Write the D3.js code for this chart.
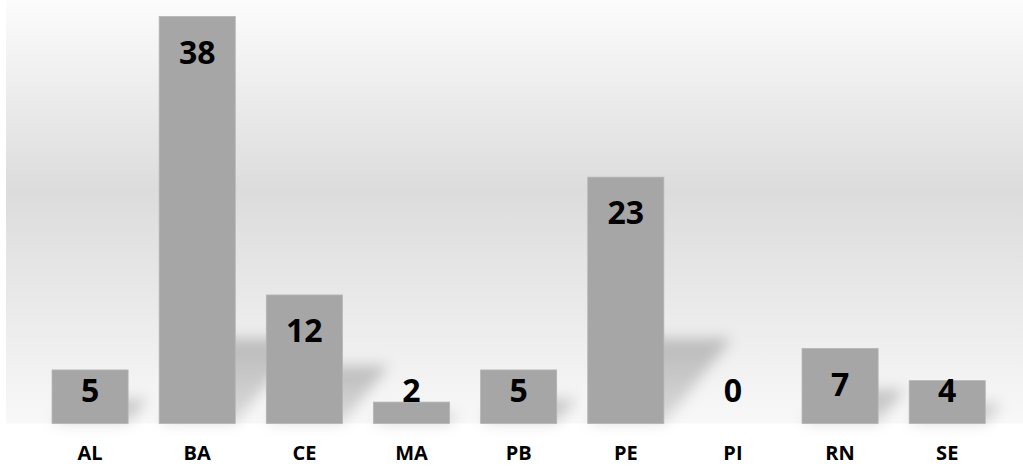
<!DOCTYPE html>
<html>
<head>
<meta charset="utf-8">
<script src="https://cdn.jsdelivr.net/npm/d3@7/dist/d3.min.js"></script>
<style>
  html, body { margin: 0; padding: 0; background: #ffffff; }
  svg { display: block; }
</style>
</head>
<body>
<svg id="chart" width="1023" height="466"></svg>
<script>
// States and their counts
const categories = ["AL", "BA", "CE", "MA", "PB", "PE", "PI", "RN", "SE"];
const counts = [5, 38, 12, 2, 5, 23, 0, 7, 4];

const width = 1023, height = 466;
const svg = d3.select("#chart");
const defs = svg.append("defs");

// Plot-area background: light at top and bottom, darker band in the middle
const bg = defs.append("linearGradient")
  .attr("id", "plotBg").attr("x1", 0).attr("y1", 0).attr("x2", 0).attr("y2", 1);
bg.append("stop").attr("offset", "0%").attr("stop-color", "#fcfcfc");
bg.append("stop").attr("offset", "45%").attr("stop-color", "#dcdcdc");
bg.append("stop").attr("offset", "100%").attr("stop-color", "#f8f8f8");

// Shadow fill: darker near the top edge, fading toward the base
const sg = defs.append("linearGradient")
  .attr("id", "shadowFill").attr("x1", 0).attr("y1", 0).attr("x2", 0).attr("y2", 1);
sg.append("stop").attr("offset", "0%").attr("stop-color", "#000").attr("stop-opacity", 0.22);
sg.append("stop").attr("offset", "100%").attr("stop-color", "#000").attr("stop-opacity", 0.12);

const blur = defs.append("filter").attr("id", "shadowBlur")
  .attr("x", "-50%").attr("y", "-50%").attr("width", "200%").attr("height", "200%");
blur.append("feGaussianBlur").attr("stdDeviation", 7);

const x = d3.scaleBand()
  .domain(categories)
  .range([36.5, 1000.8])
  .paddingInner(0.29)
  .paddingOuter(0.145);

const y = d3.scaleLinear()
  .domain([0, 38])
  .range([423.5, 16.5]);

const base = y(0);

svg.append("rect")
  .attr("x", 6).attr("y", 0)
  .attr("width", width - 6).attr("height", base)
  .attr("fill", "url(#plotBg)");

const data = categories.map((c, i) => ({ cat: c, value: counts[i] }));

// Skewed soft shadows cast up and to the right of each bar
svg.append("g")
  .attr("filter", "url(#shadowBlur)")
  .selectAll("path")
  .data(data)
  .join("path")
  .attr("d", d => {
    const x0 = x(d.cat), x1 = x0 + x.bandwidth();
    const h = base - y(d.value);
    const sh = Math.min(h * 0.45, 85);
    const dx = sh * 0.8;
    return `M${x0},${base}L${x1},${base}L${x1 + dx},${base - sh}L${x0 + dx},${base - sh}Z`;
  })
  .attr("fill", "url(#shadowFill)");

// Bars
svg.append("g")
  .selectAll("rect")
  .data(data)
  .join("rect")
  .attr("x", d => x(d.cat))
  .attr("y", d => y(d.value))
  .attr("width", x.bandwidth())
  .attr("height", d => base - y(d.value))
  .attr("fill", "#a6a6a6")
  .attr("stroke", "#b4b4b4")
  .attr("stroke-width", 0.8);

// Value labels, inside the top of each bar, kept above the baseline
svg.append("g")
  .selectAll("text")
  .data(data)
  .join("text")
  .attr("x", d => x(d.cat) + x.bandwidth() / 2)
  .attr("y", d => Math.min(y(d.value) + 47, base - 21.5))
  .attr("text-anchor", "middle")
  .attr("font-family", "'Open Sans', Lato, sans-serif")
  .attr("font-weight", "bold")
  .attr("font-size", 32)
  .attr("fill", "#000")
  .text(d => d.value);

// Category axis labels
const xAxis = d3.axisBottom(x).tickSize(0).tickPadding(0);
const axisG = svg.append("g")
  .attr("transform", `translate(0,${base})`)
  .call(xAxis);
axisG.select(".domain").remove();
axisG.selectAll("text")
  .attr("y", 36)
  .attr("dy", 0)
  .attr("font-family", "'Open Sans', Lato, sans-serif")
  .attr("font-weight", "bold")
  .attr("font-size", 20)
  .attr("fill", "#000");
</script>
</body>
</html>
